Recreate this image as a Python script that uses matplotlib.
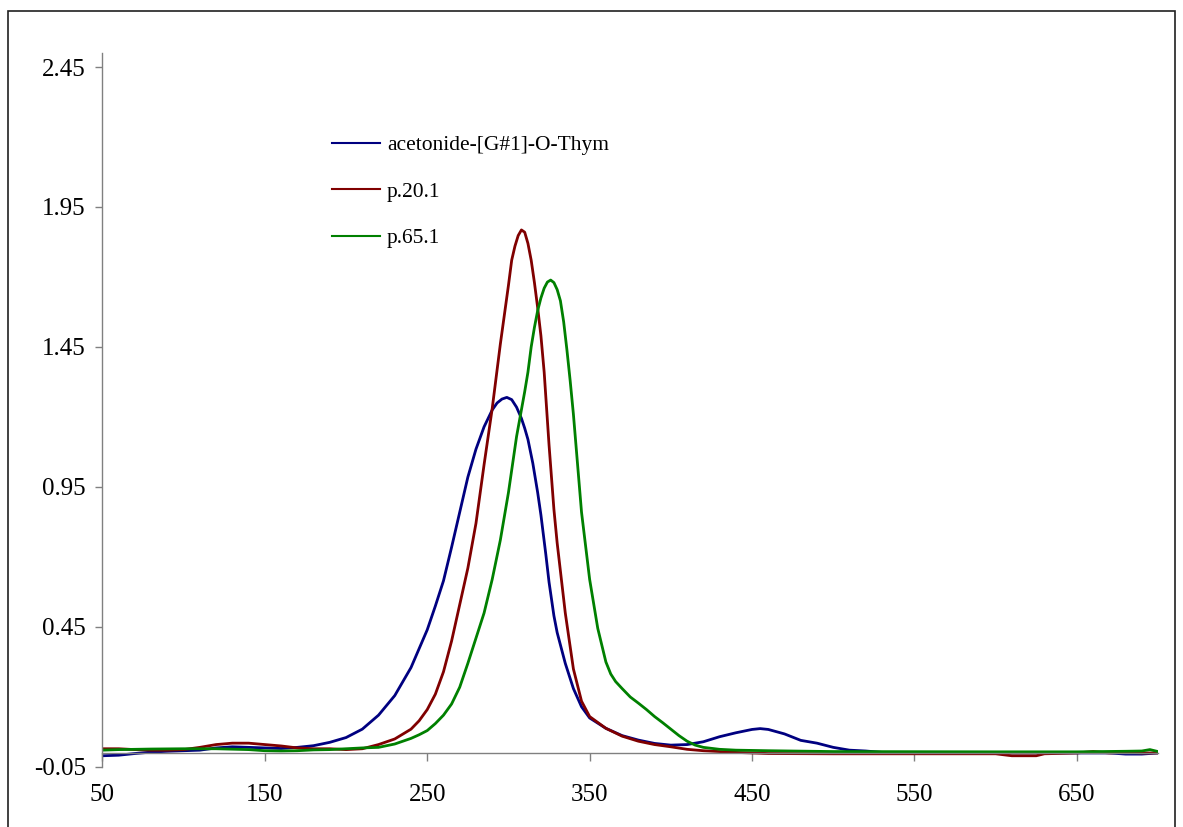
import matplotlib
matplotlib.use("Agg")
import matplotlib.pyplot as plt
from matplotlib.patches import Rectangle

# Absorbance spectra (wavelength in nm)
wl_acetonide = [50, 60, 70, 80, 90, 100, 110, 120, 130, 140, 150, 160, 170, 180, 190,
                200, 210, 220, 230, 240, 250, 255, 260, 265, 270, 275, 280, 285, 290,
                293, 296, 299, 302, 305, 308, 310, 312, 315, 318, 320, 323, 325, 328,
                330, 335, 340, 345, 350, 360, 370, 380, 390, 400, 410, 420, 430, 440,
                450, 455, 460, 470, 480, 490, 500, 510, 520, 530, 550, 600, 650, 670,
                680, 690, 700]
abs_acetonide = [-0.010, -0.008, -0.002, 0.003, 0.006, 0.008, 0.010, 0.018, 0.022, 0.020,
                 0.018, 0.016, 0.020, 0.026, 0.038, 0.055, 0.085, 0.135, 0.205, 0.305,
                 0.440, 0.525, 0.615, 0.735, 0.860, 0.985, 1.085, 1.165, 1.225, 1.250,
                 1.264, 1.270, 1.262, 1.235, 1.195, 1.160, 1.120, 1.035, 0.930, 0.850,
                 0.710, 0.610, 0.490, 0.430, 0.320, 0.230, 0.165, 0.125, 0.088, 0.062,
                 0.046, 0.034, 0.028, 0.030, 0.040, 0.058, 0.072, 0.084, 0.087, 0.084,
                 0.068, 0.045, 0.035, 0.020, 0.010, 0.007, 0.002, 0.000, 0.000, 0.000,
                 0.000, -0.004, -0.004, 0.000]

wl_p20 = [50, 60, 70, 80, 90, 100, 110, 120, 130, 140, 150, 160, 170, 180, 190, 200,
          210, 220, 230, 240, 245, 250, 255, 260, 265, 270, 275, 280, 285, 290, 295,
          300, 302, 304, 306, 308, 310, 312, 314, 316, 318, 320, 322, 325, 328, 330,
          335, 340, 345, 350, 360, 370, 380, 390, 400, 410, 420, 430, 440, 460, 500,
          550, 600, 610, 625, 630, 650, 660, 670, 680, 690, 700]
abs_p20 = [0.015, 0.015, 0.012, 0.010, 0.010, 0.012, 0.020, 0.030, 0.035, 0.035, 0.030,
           0.025, 0.018, 0.015, 0.015, 0.012, 0.015, 0.030, 0.050, 0.085, 0.115, 0.155,
           0.210, 0.290, 0.400, 0.530, 0.660, 0.820, 1.030, 1.230, 1.460, 1.670, 1.760,
           1.810, 1.848, 1.868, 1.860, 1.820, 1.760, 1.680, 1.590, 1.490, 1.360, 1.100,
           0.870, 0.750, 0.500, 0.300, 0.185, 0.130, 0.088, 0.060, 0.042, 0.030, 0.022,
           0.013, 0.008, 0.005, 0.002, -0.002, -0.003, -0.003, -0.003, -0.010, -0.010,
           -0.003, 0.000, 0.005, 0.000, 0.003, 0.000, 0.000]

wl_p65 = [50, 60, 70, 80, 100, 120, 140, 150, 160, 170, 180, 190, 200, 210, 220, 230,
          240, 245, 250, 255, 260, 265, 270, 275, 280, 285, 290, 295, 300, 305, 310,
          312, 314, 316, 318, 320, 322, 324, 326, 328, 330, 332, 334, 336, 338, 340,
          345, 350, 355, 360, 363, 366, 370, 375, 380, 385, 390, 395, 400, 405, 410,
          415, 420, 430, 440, 460, 500, 600, 650, 680, 690, 695, 700]
abs_p65 = [0.010, 0.012, 0.013, 0.014, 0.015, 0.015, 0.012, 0.008, 0.007, 0.008, 0.011,
           0.012, 0.015, 0.018, 0.020, 0.032, 0.052, 0.065, 0.080, 0.105, 0.135, 0.175,
           0.235, 0.320, 0.410, 0.500, 0.620, 0.760, 0.930, 1.130, 1.290, 1.360, 1.450,
           1.520, 1.580, 1.625, 1.660, 1.682, 1.689, 1.680, 1.655, 1.615, 1.540, 1.440,
           1.330, 1.210, 0.860, 0.620, 0.445, 0.325, 0.282, 0.255, 0.230, 0.200, 0.178,
           0.155, 0.130, 0.108, 0.085, 0.062, 0.042, 0.028, 0.020, 0.013, 0.010, 0.008,
           0.005, 0.004, 0.004, 0.006, 0.007, 0.012, 0.005]

labels = ["acetonide-[G#1]-O-Thym", "p.20.1", "p.65.1"]
colors = ["#000080", "#800000", "#008000"]

x_ticks = [50, 150, 250, 350, 450, 550, 650]
y_ticks = [-0.05, 0.45, 0.95, 1.45, 1.95, 2.45]

plt.rcParams["font.family"] = ["Liberation Serif", "DejaVu Serif"]

fig = plt.figure(figsize=(11.83, 8.27), dpi=100)
ax = fig.add_axes([0.0866, 0.0726, 0.8923, 0.8633])

series = [(wl_acetonide, abs_acetonide), (wl_p20, abs_p20), (wl_p65, abs_p65)]
for (x, y), lab, col in zip(series, labels, colors):
    ax.plot(x, y, color=col, lw=2.0, label=lab, solid_joinstyle="round")

ax.set_xlim(50, 700)
ax.set_ylim(-0.05, 2.50)
ax.set_xticks(x_ticks)
ax.set_xticklabels([str(v) for v in x_ticks])
ax.set_yticks(y_ticks)
ax.set_yticklabels([f"{v:.2f}" for v in y_ticks])

grey = "#808080"
ax.spines["top"].set_visible(False)
ax.spines["right"].set_visible(False)
ax.spines["bottom"].set_position(("data", 0))
for s in ("left", "bottom"):
    ax.spines[s].set_color(grey)
    ax.spines[s].set_linewidth(1.0)

ax.tick_params(axis="x", direction="out", length=5.5, width=1.0, color=grey,
               labelsize=18, pad=17)
ax.tick_params(axis="y", direction="out", length=5, width=1.0, color=grey,
               labelsize=18, pad=7)

leg = ax.legend(loc="upper left", bbox_to_anchor=(0.2806, 0.8364),
                bbox_transform=fig.transFigure, frameon=False, fontsize=15.5,
                handlelength=2.23, handletextpad=0.33, labelspacing=1.23,
                borderpad=0, borderaxespad=0)
for h in leg.get_lines():
    h.set_linewidth(1.5)

# outer chart frame
fig.patches.append(Rectangle((8 / 1183, -0.02), (1175 - 8) / 1183, 1.02 - 11 / 827,
                             transform=fig.transFigure, fill=False,
                             edgecolor="#202020", linewidth=1.2))

fig.savefig("out.png", dpi=100)
